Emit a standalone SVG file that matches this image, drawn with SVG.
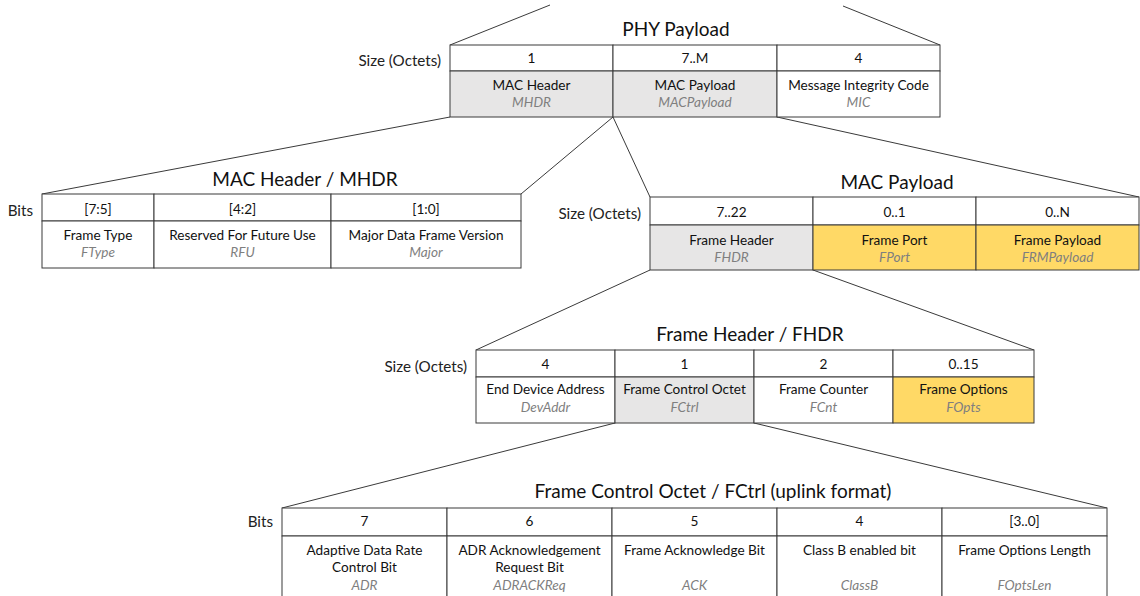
<svg xmlns="http://www.w3.org/2000/svg" width="1140" height="596" viewBox="0 0 1140 596">
<style>
.c{stroke:#3a3a3a;stroke-width:1;fill:#fff}
.g{fill:#e7e6e6}
.y{fill:#ffd966}
.t{font-family:Lato,"Liberation Sans",sans-serif;font-size:13.6px;fill:#111;text-anchor:middle;dominant-baseline:central}
.i{font-family:Lato,"Liberation Sans",sans-serif;font-size:13.6px;fill:#7f7f7f;font-style:italic;text-anchor:middle;dominant-baseline:central}
.l{font-family:Lato,"Liberation Sans",sans-serif;font-size:15.2px;fill:#222;text-anchor:end;dominant-baseline:central}
.h{font-family:Lato,"Liberation Sans",sans-serif;font-size:19px;fill:#111;text-anchor:middle;dominant-baseline:central}
.k{stroke:#3a3a3a;stroke-width:1;fill:none}
</style>
<rect width="1140" height="596" fill="#fff"/>
<g id="connectors" class="k">
<line x1="550" y1="5" x2="450" y2="45"/>
<line x1="843" y1="6" x2="940" y2="45"/>
<line x1="450" y1="117" x2="42" y2="194"/>
<line x1="613" y1="117" x2="521" y2="194"/>
<line x1="613" y1="117" x2="650" y2="197"/>
<line x1="777" y1="117" x2="1139" y2="197"/>
<line x1="650" y1="270" x2="476" y2="350"/>
<line x1="813" y1="270" x2="1034" y2="350"/>
<line x1="615" y1="423" x2="282" y2="508"/>
<line x1="754" y1="423" x2="1107" y2="508"/>
</g>
<g id="phy">
<text class="h" x="676" y="28">PHY Payload</text>
<text class="l" x="441" y="60">Size (Octets)</text>
<rect class="c" x="450" y="45" width="163" height="26"/>
<rect class="c" x="613" y="45" width="164" height="26"/>
<rect class="c" x="777" y="45" width="163" height="26"/>
<rect class="c g" x="450" y="71" width="163" height="46"/>
<rect class="c g" x="613" y="71" width="164" height="46"/>
<rect class="c" x="777" y="71" width="163" height="46"/>
<text class="t" x="531.5" y="58">1</text>
<text class="t" x="695" y="58">7..M</text>
<text class="t" x="858.5" y="58">4</text>
<text class="t" x="531.5" y="85">MAC Header</text>
<text class="i" x="531.5" y="102">MHDR</text>
<text class="t" x="695" y="85">MAC Payload</text>
<text class="i" x="695" y="102">MACPayload</text>
<text class="t" x="858.5" y="85">Message Integrity Code</text>
<text class="i" x="858.5" y="102">MIC</text>
</g>
<g id="mhdr">
<text class="h" x="305" y="178">MAC Header / MHDR</text>
<text class="l" x="33" y="210">Bits</text>
<rect class="c" x="42" y="194" width="112" height="27"/>
<rect class="c" x="154" y="194" width="177" height="27"/>
<rect class="c" x="331" y="194" width="190" height="27"/>
<rect class="c" x="42" y="221" width="112" height="47"/>
<rect class="c" x="154" y="221" width="177" height="47"/>
<rect class="c" x="331" y="221" width="190" height="47"/>
<text class="t" x="98" y="209">[7:5]</text>
<text class="t" x="242.5" y="209">[4:2]</text>
<text class="t" x="426" y="209">[1:0]</text>
<text class="t" x="98" y="235">Frame Type</text>
<text class="i" x="98" y="252">FType</text>
<text class="t" x="242.5" y="235">Reserved For Future Use</text>
<text class="i" x="242.5" y="252">RFU</text>
<text class="t" x="426" y="235">Major Data Frame Version</text>
<text class="i" x="426" y="252">Major</text>
</g>
<g id="macpayload">
<text class="h" x="897" y="181">MAC Payload</text>
<text class="l" x="641" y="213">Size (Octets)</text>
<rect class="c" x="650" y="197" width="163" height="28"/>
<rect class="c" x="813" y="197" width="163" height="28"/>
<rect class="c" x="976" y="197" width="163" height="28"/>
<rect class="c g" x="650" y="225" width="163" height="45"/>
<rect class="c y" x="813" y="225" width="163" height="45"/>
<rect class="c y" x="976" y="225" width="163" height="45"/>
<text class="t" x="731.5" y="212">7..22</text>
<text class="t" x="894.5" y="212">0..1</text>
<text class="t" x="1057.5" y="212">0..N</text>
<text class="t" x="731.5" y="240">Frame Header</text>
<text class="i" x="731.5" y="257">FHDR</text>
<text class="t" x="894.5" y="240">Frame Port</text>
<text class="i" x="894.5" y="257">FPort</text>
<text class="t" x="1057.5" y="240">Frame Payload</text>
<text class="i" x="1057.5" y="257">FRMPayload</text>
</g>
<g id="fhdr">
<text class="h" x="750" y="333">Frame Header / FHDR</text>
<text class="l" x="467" y="366">Size (Octets)</text>
<rect class="c" x="476" y="350" width="139" height="27"/>
<rect class="c" x="615" y="350" width="139" height="27"/>
<rect class="c" x="754" y="350" width="139" height="27"/>
<rect class="c" x="893" y="350" width="141" height="27"/>
<rect class="c" x="476" y="377" width="139" height="46"/>
<rect class="c g" x="615" y="377" width="139" height="46"/>
<rect class="c" x="754" y="377" width="139" height="46"/>
<rect class="c y" x="893" y="377" width="141" height="46"/>
<text class="t" x="545.5" y="364">4</text>
<text class="t" x="684.5" y="364">1</text>
<text class="t" x="823.5" y="364">2</text>
<text class="t" x="963.5" y="364">0..15</text>
<text class="t" x="545.5" y="389">End Device Address</text>
<text class="i" x="545.5" y="407">DevAddr</text>
<text class="t" x="684.5" y="389">Frame Control Octet</text>
<text class="i" x="684.5" y="407">FCtrl</text>
<text class="t" x="823.5" y="389">Frame Counter</text>
<text class="i" x="823.5" y="407">FCnt</text>
<text class="t" x="963.5" y="389">Frame Options</text>
<text class="i" x="963.5" y="407">FOpts</text>
</g>
<g id="fctrl">
<text class="h" x="713" y="490">Frame Control Octet / FCtrl (uplink format)</text>
<text class="l" x="273" y="521">Bits</text>
<rect class="c" x="282" y="508" width="165" height="28"/>
<rect class="c" x="447" y="508" width="165" height="28"/>
<rect class="c" x="612" y="508" width="165" height="28"/>
<rect class="c" x="777" y="508" width="165" height="28"/>
<rect class="c" x="942" y="508" width="165" height="28"/>
<rect class="c" x="282" y="536" width="165" height="70"/>
<rect class="c" x="447" y="536" width="165" height="70"/>
<rect class="c" x="612" y="536" width="165" height="70"/>
<rect class="c" x="777" y="536" width="165" height="70"/>
<rect class="c" x="942" y="536" width="165" height="70"/>
<text class="t" x="364.5" y="521">7</text>
<text class="t" x="529.5" y="521">6</text>
<text class="t" x="694.5" y="521">5</text>
<text class="t" x="859.5" y="521">4</text>
<text class="t" x="1024.5" y="521">[3..0]</text>
<text class="t" x="364.5" y="550">Adaptive Data Rate</text>
<text class="t" x="364.5" y="567">Control Bit</text>
<text class="i" x="364.5" y="585">ADR</text>
<text class="t" x="529.5" y="550">ADR Acknowledgement</text>
<text class="t" x="529.5" y="567">Request Bit</text>
<text class="i" x="529.5" y="585">ADRACKReq</text>
<text class="t" x="694.5" y="550">Frame Acknowledge Bit</text>
<text class="i" x="694.5" y="585">ACK</text>
<text class="t" x="859.5" y="550">Class B enabled bit</text>
<text class="i" x="859.5" y="585">ClassB</text>
<text class="t" x="1024.5" y="550">Frame Options Length</text>
<text class="i" x="1024.5" y="585">FOptsLen</text>
</g>
</svg>
